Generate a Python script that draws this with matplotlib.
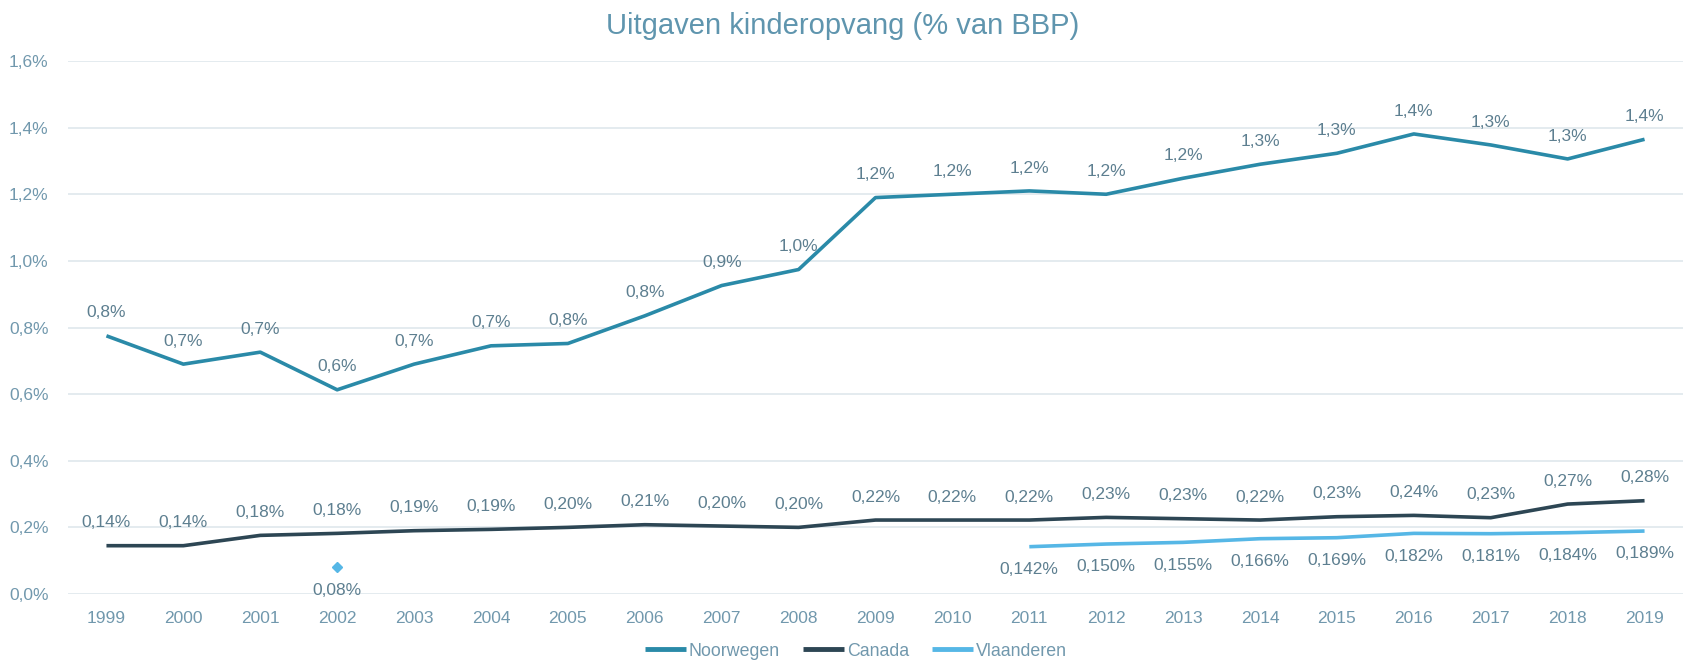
import matplotlib
matplotlib.use("Agg")
import matplotlib.pyplot as plt
import numpy as np

# data
years = list(range(1999, 2020))
noorwegen = [0.775, 0.690, 0.726, 0.613, 0.690, 0.745, 0.752, 0.835, 0.926, 0.974,
             1.190, 1.200, 1.210, 1.200, 1.248, 1.290, 1.323, 1.381, 1.348, 1.306, 1.365]
canada = [0.145, 0.145, 0.176, 0.182, 0.190, 0.194, 0.200, 0.208, 0.204, 0.200,
          0.222, 0.222, 0.222, 0.230, 0.226, 0.222, 0.232, 0.236, 0.229, 0.270, 0.280]
vl_years = list(range(2011, 2020))
vlaanderen = [0.142, 0.150, 0.155, 0.166, 0.169, 0.182, 0.181, 0.184, 0.189]
vl_2002_year = 2002
vl_2002 = 0.08

c_no = "#2a8aa8"
c_ca = "#2d4654"
c_vl = "#56b7e6"
c_txt = "#5d7f90"
c_tick = "#7198ad"

plt.rcParams['font.family'] = ['Liberation Sans', 'DejaVu Sans']

fig = plt.figure(figsize=(16.85, 6.63), dpi=100)
ax = fig.add_axes([68 / 1685, 69 / 663, 1615 / 1685, 533 / 663])

ax.plot(years, noorwegen, color=c_no, lw=2.6, label="Noorwegen", solid_capstyle="butt")
ax.plot(years, canada, color=c_ca, lw=2.6, label="Canada", solid_capstyle="butt")
ax.plot(vl_years, vlaanderen, color=c_vl, lw=2.6, label="Vlaanderen", solid_capstyle="butt")
ax.plot([vl_2002_year], [vl_2002], marker="D", color=c_vl, ms=5.5, lw=0)

def pct(v, d):
    return f"{v:.{d}f}%".replace(".", ",")

off = 16.5
fs = 12.5
for x, v in zip(years, noorwegen):
    ax.annotate(pct(v, 1), (x, v), xytext=(0, off), textcoords="offset points",
                ha="center", va="center", fontsize=fs, color=c_txt)
for x, v in zip(years, canada):
    ax.annotate(pct(v, 2), (x, v), xytext=(0, off), textcoords="offset points",
                ha="center", va="center", fontsize=fs, color=c_txt)
for x, v in zip(vl_years, vlaanderen):
    ax.annotate(pct(v, 3), (x, v), xytext=(0, -off), textcoords="offset points",
                ha="center", va="center", fontsize=fs, color=c_txt)
ax.annotate(pct(vl_2002, 2), (vl_2002_year, vl_2002), xytext=(0, -off), textcoords="offset points",
            ha="center", va="center", fontsize=fs, color=c_txt)

ax.set_xlim(1998.5, 2019.5)
ax.set_ylim(0, 1.6)
ax.set_xticks(years)
ax.set_xticklabels([str(y) for y in years])
yt = np.arange(0, 1.61, 0.2)
ax.set_yticks(yt)
ax.set_yticklabels([f"{t:.1f}%".replace(".", ",") for t in yt])
ax.tick_params(length=0, labelsize=12.5, colors=c_tick)
ax.tick_params(axis="x", pad=12)
ax.tick_params(axis="y", pad=14)
ax.grid(axis="y", color="#dfe7ec", lw=1.2)
ax.set_axisbelow(True)
for s in ax.spines.values():
    s.set_visible(False)

fig.suptitle("Uitgaven kinderopvang (% van BBP)", y=0.982, fontsize=21, color="#5f95ae")

leg = fig.legend(loc="center", bbox_to_anchor=(856 / 1685, 12 / 663), ncol=3, frameon=False,
                 fontsize=12.8, handlelength=2.3, handletextpad=0.15, columnspacing=1.3)
for h in leg.get_lines():
    h.set_linewidth(3.5)
for t in leg.get_texts():
    t.set_color(c_tick)

fig.savefig("out.png", dpi=100, facecolor="white")
